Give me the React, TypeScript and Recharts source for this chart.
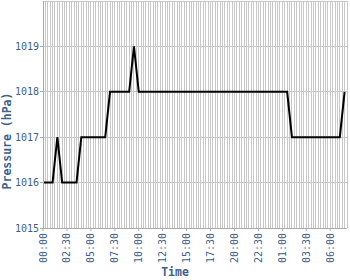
import { LineChart, Line, XAxis, YAxis, CartesianGrid } from "recharts"

// pressure readings every 30 minutes, starting 00:00
const STEP_MIN = 30
const pressure = [
  1016, 1016, 1016, 1017, 1016, 1016, 1016, 1016, 1017, 1017,
  1017, 1017, 1017, 1017, 1018, 1018, 1018, 1018, 1018, 1019,
  1018, 1018, 1018, 1018, 1018, 1018, 1018, 1018, 1018, 1018,
  1018, 1018, 1018, 1018, 1018, 1018, 1018, 1018, 1018, 1018,
  1018, 1018, 1018, 1018, 1018, 1018, 1018, 1018, 1018, 1018,
  1018, 1018, 1017, 1017, 1017, 1017, 1017, 1017, 1017, 1017,
  1017, 1017, 1017, 1018,
]

const yTicks = [1015, 1016, 1017, 1018, 1019]
const tickLabels = ["00:00", "02:30", "05:00", "07:30", "10:00", "12:30", "15:00", "17:30", "20:00", "22:30", "01:00", "03:30", "06:00"]
const LABEL_EVERY = 150 // minutes between labelled ticks
const GRID_MIN = 15 // a grid line every 15 minutes
const X_END = 1905 // 07:45 next day

const rows = pressure.map((p, i) => ({ t: i * STEP_MIN, p }))
const gridTicks = Array.from({ length: X_END / GRID_MIN + 1 }, (_, i) => i * GRID_MIN)

const FONT = "'DejaVu Sans Mono', monospace"
const BLUE = "#3f5f88"

function TimeTick(props: any) {
  const { x, y, payload } = props
  const v = payload.value as number
  if (v % LABEL_EVERY !== 0) return <g />
  const label = tickLabels[v / LABEL_EVERY]
  return (
    <g>
      <line x1={x} x2={x} y1={y - 5} y2={y - 2} stroke="#aaaaaa" />
      <text
        x={x}
        y={y}
        dy="0.35em"
        transform={`rotate(-90, ${x}, ${y})`}
        textAnchor="end"
        fontSize={10}
        fontFamily={FONT}
        fill={BLUE}
      >
        {label}
      </text>
    </g>
  )
}

export default function App() {
  return (
    <div style={{ position: "absolute", left: 0, top: 0, background: "#fff" }}>
      <style>{`.recharts-cartesian-grid line, .recharts-cartesian-axis-line, .recharts-cartesian-axis-tick-line { shape-rendering: crispEdges; }`}</style>
      <LineChart width={350} height={280} data={rows} margin={{ top: 1, right: 3, left: 0, bottom: 0 }}>
        <CartesianGrid stroke="#c8c8c8" />
        <XAxis
          dataKey="t"
          type="number"
          domain={[0, X_END]}
          ticks={gridTicks}
          interval={0}
          height={52}
          tickSize={3}
          tickMargin={2}
          tickLine={false}
          axisLine={{ stroke: "#aaaaaa" }}
          tick={<TimeTick />}
          label={{
            content: () => (
              <text x={175} y={276} textAnchor="middle" fontSize={11.5} fontWeight="bold" fontFamily={FONT} fill={BLUE}>
                Time
              </text>
            ),
          }}
        />
        <YAxis
          domain={[1015, 1020]}
          ticks={yTicks}
          width={43}
          tickSize={3}
          tickMargin={1}
          stroke="#aaaaaa"
          tick={{ fontSize: 10, fontFamily: FONT, fill: BLUE }}
          label={{
            content: () => (
              <text
                x={7}
                y={141}
                dy="0.35em"
                transform="rotate(-90, 7, 141)"
                textAnchor="middle"
                fontSize={11.5}
                fontWeight="bold"
                fontFamily={FONT}
                fill={BLUE}
              >
                Pressure (hPa)
              </text>
            ),
          }}
        />
        <Line type="linear" dataKey="p" stroke="#000" strokeWidth={2} dot={false} isAnimationActive={false} />
      </LineChart>
    </div>
  )
}
